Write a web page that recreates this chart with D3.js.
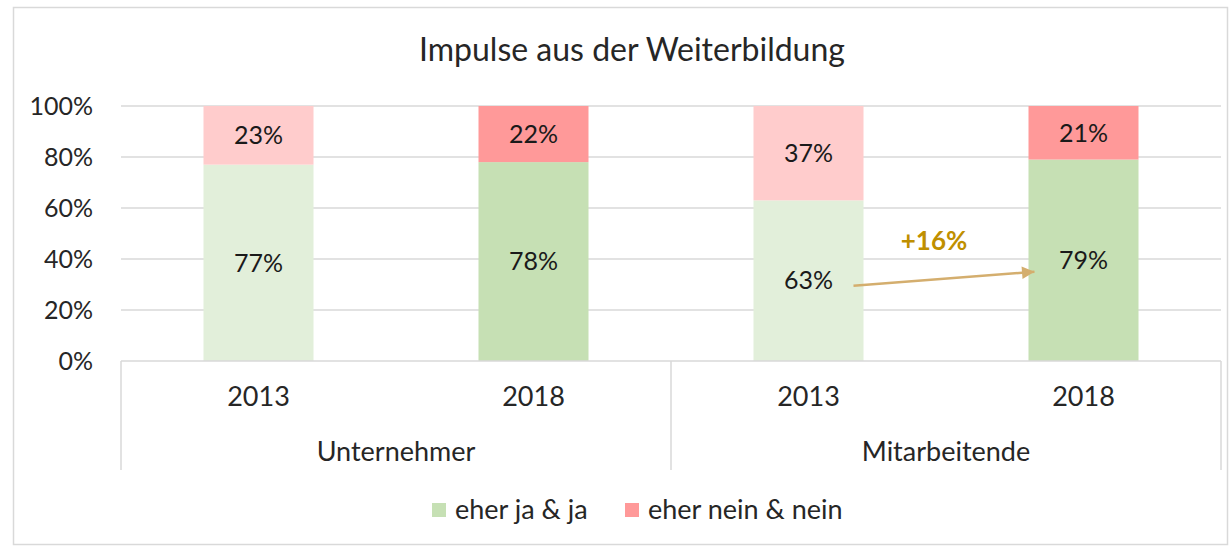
<!DOCTYPE html>
<html>
<head>
<meta charset="utf-8">
<script src="https://cdn.jsdelivr.net/npm/d3@7"></script>
<style>
  body { margin: 0; background: #fff; }
  svg { font-family: Lato, "Open Sans", sans-serif; }
</style>
</head>
<body>
<script>
// data
const groups = ["Unternehmer", "Mitarbeitende"]
const years = ["2013", "2018"]
const jaValues = [0.77, 0.78, 0.63, 0.79]
const neinValues = [0.23, 0.22, 0.37, 0.21]
const yTicks = [0, 0.2, 0.4, 0.6, 0.8, 1]
const seriesNames = ["eher ja & ja", "eher nein & nein"]
const changeLabel = "+16%"

// colours per bar (2013 lighter, 2018 stronger)
const jaColors = ["#e2efda", "#c6e0b4", "#e2efda", "#c6e0b4"]
const neinColors = ["#ffcccc", "#ff9999", "#ffcccc", "#ff9999"]

const W = 1232, H = 549
const margin = {top: 106, right: 11, bottom: 188, left: 121}
const width = W - margin.left - margin.right,
      height = H - margin.top - margin.bottom

let svg = d3.select("body").append("svg")
    .attr("width", W)
    .attr("height", H)

// outer frame
svg.append("rect")
    .attr("x", 13.5).attr("y", 7.5)
    .attr("width", W - 18).attr("height", H - 12)
    .attr("fill", "none")
    .attr("stroke", "#d9d9d9")
    .attr("stroke-width", 1.5)

svg.append("text")
    .attr("x", 632).attr("y", 61)
    .attr("text-anchor", "middle")
    .attr("font-size", 32)
    .attr("fill", "#262626")
    .text("Impulse aus der Weiterbildung")

let g = svg.append("g")
    .attr("transform", "translate(" + margin.left + "," + margin.top + ")")

const keys = []
groups.forEach(gr => years.forEach(yr => keys.push(gr + "|" + yr)))

let x = d3.scaleBand()
    .domain(keys)
    .range([0, width])
    .paddingInner(0.6)
    .paddingOuter(0.3)

let xGroup = d3.scaleBand()
    .domain(groups)
    .range([0, width])

let y = d3.scaleLinear()
    .domain([0, 1])
    .range([height, 0])

// grid
g.selectAll(".grid")
    .data(yTicks.slice(1))
    .enter()
    .append("line")
    .attr("x1", 0).attr("x2", width)
    .attr("y1", d => y(d)).attr("y2", d => y(d))
    .attr("stroke", "#d9d9d9")
    .attr("stroke-width", 1.5)

// y axis labels
let yAxis = d3.axisLeft(y).tickValues(yTicks).tickFormat(d3.format(".0%")).tickSize(0).tickPadding(28)
g.append("g").call(yAxis)
    .call(a => a.select(".domain").remove())
    .selectAll("text")
    .attr("font-size", 25)
    .attr("font-family", "Lato")
    .attr("fill", "#262626")

// stacked bars
const rows = keys.map((k, i) => ({key: k, ja: jaValues[i], nein: neinValues[i], i: i}))

g.selectAll(".ja")
    .data(rows)
    .enter()
    .append("rect")
    .attr("x", d => x(d.key))
    .attr("width", x.bandwidth())
    .attr("y", d => y(d.ja))
    .attr("height", d => y(0) - y(d.ja))
    .attr("fill", d => jaColors[d.i])

g.selectAll(".nein")
    .data(rows)
    .enter()
    .append("rect")
    .attr("x", d => x(d.key))
    .attr("width", x.bandwidth())
    .attr("y", d => y(d.ja + d.nein))
    .attr("height", d => y(d.ja) - y(d.ja + d.nein))
    .attr("fill", d => neinColors[d.i])

const pct = d3.format(".0%")
g.selectAll(".jaLabel")
    .data(rows)
    .enter()
    .append("text")
    .attr("x", d => x(d.key) + x.bandwidth() / 2)
    .attr("y", d => y(d.ja / 2))
    .attr("dy", "0.35em")
    .attr("text-anchor", "middle")
    .attr("font-size", 25)
    .attr("fill", "#1a1a1a")
    .text(d => pct(d.ja))

g.selectAll(".neinLabel")
    .data(rows)
    .enter()
    .append("text")
    .attr("x", d => x(d.key) + x.bandwidth() / 2)
    .attr("y", d => y(d.ja + d.nein / 2))
    .attr("dy", "0.35em")
    .attr("text-anchor", "middle")
    .attr("font-size", 25)
    .attr("fill", "#1a1a1a")
    .text(d => pct(d.nein))

// category axis (two levels)
const axisColor = "#d9d9d9"
g.append("line")
    .attr("x1", 0).attr("x2", width)
    .attr("y1", height).attr("y2", height)
    .attr("stroke", axisColor).attr("stroke-width", 1.5)

const seps = [0, xGroup("Mitarbeitende"), width]
g.selectAll(".sep")
    .data(seps)
    .enter()
    .append("line")
    .attr("x1", d => d).attr("x2", d => d)
    .attr("y1", height).attr("y2", height + 109)
    .attr("stroke", axisColor).attr("stroke-width", 1.5)

g.selectAll(".yearLabel")
    .data(rows)
    .enter()
    .append("text")
    .attr("x", d => x(d.key) + x.bandwidth() / 2)
    .attr("y", height + 36)
    .attr("dy", "0.35em")
    .attr("text-anchor", "middle")
    .attr("font-size", 27)
    .attr("fill", "#262626")
    .text(d => d.key.split("|")[1])

g.selectAll(".groupLabel")
    .data(groups)
    .enter()
    .append("text")
    .attr("x", d => xGroup(d) + xGroup.bandwidth() / 2)
    .attr("y", height + 91)
    .attr("dy", "0.35em")
    .attr("text-anchor", "middle")
    .attr("font-size", 27)
    .attr("fill", "#262626")
    .text(d => d)

// change arrow between Mitarbeitende 2013 and 2018
const arrowColor = "#d4ae6e"
svg.append("defs").append("marker")
    .attr("id", "head")
    .attr("viewBox", "0 0 10 10")
    .attr("refX", 10).attr("refY", 5)
    .attr("markerWidth", 6).attr("markerHeight", 5)
    .attr("markerUnits", "strokeWidth")
    .attr("orient", "auto")
    .append("path")
    .attr("d", "M0,0 L10,5 L0,10 Z")
    .attr("fill", arrowColor)

const kFrom = "Mitarbeitende|2013", kTo = "Mitarbeitende|2018"
g.append("line")
    .attr("x1", x(kFrom) + x.bandwidth() / 2 + 45)
    .attr("y1", y(0.295))
    .attr("x2", x(kTo) + 6)
    .attr("y2", y(0.35))
    .attr("stroke", arrowColor)
    .attr("stroke-width", 2.5)
    .attr("marker-end", "url(#head)")

g.append("text")
    .attr("x", (x(kFrom) + x(kTo)) / 2 + x.bandwidth() / 2 - 12)
    .attr("y", y(0.47))
    .attr("dy", "0.35em")
    .attr("text-anchor", "middle")
    .attr("font-size", 26)
    .attr("font-weight", "bold")
    .attr("fill", "#bf8f00")
    .text(changeLabel)

// legend
const legendColors = ["#c6e0b4", "#ff9999"]
const legendX = [432, 625]
let legend = svg.selectAll(".legend")
    .data(seriesNames)
    .enter()
    .append("g")
    .attr("transform", (d, i) => "translate(" + legendX[i] + ",503)")

legend.append("rect")
    .attr("width", 14).attr("height", 14)
    .attr("fill", (d, i) => legendColors[i])

legend.append("text")
    .attr("x", 23).attr("y", 7)
    .attr("dy", "0.35em")
    .attr("font-size", 27)
    .attr("fill", "#262626")
    .text(d => d)
</script>
</body>
</html>
